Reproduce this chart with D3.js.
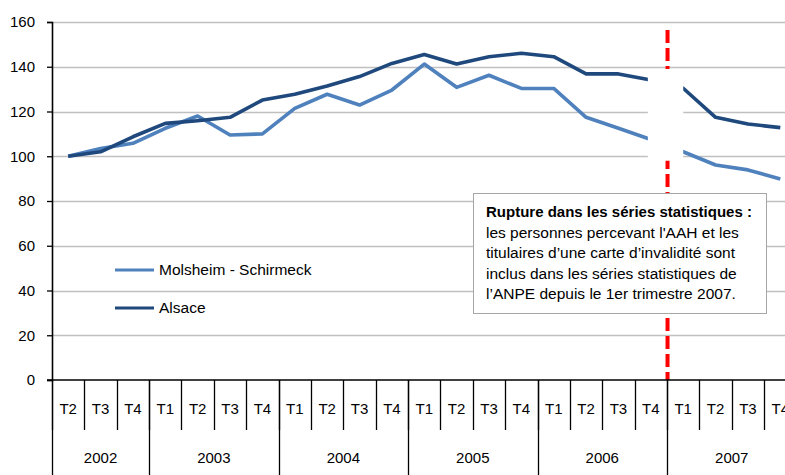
<!DOCTYPE html>
<html>
<head>
<meta charset="utf-8">
<title>Demandeurs d'emploi handicapés</title>
<script src="https://cdnjs.cloudflare.com/ajax/libs/d3/7.8.5/d3.min.js"></script>
<style>
  body { margin: 0; background: #fff; }
  svg { display: block; font-family: "Liberation Sans", Arial, sans-serif; }
</style>
</head>
<body>
<div id="chart"></div>
<script>
// quarter labels, 2002 T2 to 2007 T4
var quarters = ["T2","T3","T4",
                "T1","T2","T3","T4",
                "T1","T2","T3","T4",
                "T1","T2","T3","T4",
                "T1","T2","T3","T4",
                "T1","T2","T3","T4"];
var years = ["2002","2003","2004","2005","2006","2007"];
var quartersPerYear = [3, 4, 4, 4, 4, 4];

// index base 100 = 2002 T2
var molsheim = [100, 103.5, 105.8, 112.5, 118, 109.5, 110, 121.4, 127.7, 122.9, 129.6,
                141.2, 130.8, 136.2, 130.3, 130.3, 117.4, 112.5, 107.5, 102, 96.1, 93.9, 89.8];
var alsace   = [100, 102, 108.7, 114.7, 115.9, 117.4, 125.1, 127.7, 131.4, 135.6, 141.5,
                145.5, 141.2, 144.5, 146, 144.5, 136.8, 136.8, 134.1, 130.4, 117.4, 114.4, 112.8];
var seriesNames = ["Molsheim - Schirmeck", "Alsace"];
var yTicks = [0, 20, 40, 60, 80, 100, 120, 140, 160];
var breakIndex = 19; // 1er trimestre 2007

var noteTitle = "Rupture dans  les séries statistiques :";
var noteLines = ["les personnes percevant l'AAH et les",
                 "titulaires d\u2019une carte d\u2019invalidité sont",
                 "inclus dans les séries statistiques de",
                 "l\u2019ANPE  depuis le 1er trimestre 2007."];

function draw() {
  var W = 785, H = 475;
  var plotLeft = 52, plotTop = 22, plotBottom = 380;
  var step = 32.37;
  var plotRight = plotLeft + step * quarters.length;

  var svg = d3.select("#chart").append("svg")
    .attr("width", W).attr("height", H);

  var x = d3.scaleBand()
    .domain(d3.range(quarters.length))
    .range([plotLeft, plotRight])
    .padding(0);
  var xc = function(i) { return x(i) + x.bandwidth() / 2; };

  var y = d3.scaleLinear().domain([0, 160]).range([plotBottom, plotTop]);

  // gridlines
  svg.append("g").selectAll("line")
    .data(yTicks.filter(function(d) { return d > 0; }))
    .enter().append("line")
      .attr("x1", plotLeft).attr("x2", W)
      .attr("y1", function(d) { return Math.round(y(d)) + 0.5; })
      .attr("y2", function(d) { return Math.round(y(d)) + 0.5; })
      .attr("stroke", "#c0c0c0")
      .attr("stroke-width", 1.3);

  // y axis
  var yAxis = svg.append("g")
    .attr("transform", "translate(" + plotLeft + ",0)")
    .call(d3.axisLeft(y).tickValues(yTicks).tickSize(5).tickPadding(12));
  yAxis.select(".domain").attr("stroke", "#000").attr("stroke-width", 1.6);
  yAxis.selectAll(".tick line").attr("stroke", "#000").attr("stroke-width", 1.3);
  yAxis.selectAll("text")
    .attr("font-family", "Liberation Sans, Arial, sans-serif")
    .attr("font-size", 15).attr("fill", "#000");

  // red break line
  svg.append("line")
    .attr("x1", x(breakIndex) + 0.5).attr("x2", x(breakIndex) + 0.5)
    .attr("y1", 30).attr("y2", plotBottom)
    .attr("stroke", "#ff0000")
    .attr("stroke-width", 4)
    .attr("stroke-dasharray", "13,5");

  // series lines
  var line = d3.line()
    .x(function(d, i) { return xc(i); })
    .y(function(d) { return y(d); });

  svg.append("path").datum(molsheim)
    .attr("d", line).attr("fill", "none")
    .attr("stroke", "#4f81bd").attr("stroke-width", 3.6)
    .attr("stroke-linejoin", "round");

  svg.append("path").datum(alsace)
    .attr("d", line).attr("fill", "none")
    .attr("stroke", "#1f497d").attr("stroke-width", 3.6)
    .attr("stroke-linejoin", "round");

  // white gap over the break
  svg.append("rect")
    .attr("x", xc(breakIndex - 1) - 3)
    .attr("y", y(139))
    .attr("width", xc(breakIndex) - xc(breakIndex - 1) + 3)
    .attr("height", y(98) - y(139))
    .attr("fill", "#fff");

  // x axis line
  svg.append("line")
    .attr("x1", plotLeft - 5).attr("x2", W)
    .attr("y1", plotBottom).attr("y2", plotBottom)
    .attr("stroke", "#000").attr("stroke-width", 1.6);

  // quarter separators and labels
  var xAxis = svg.append("g");
  xAxis.selectAll("line.q")
    .data(d3.range(quarters.length + 1))
    .enter().append("line")
      .attr("class", "q")
      .attr("x1", function(i) { return Math.round(plotLeft + i * step) + 0.5; })
      .attr("x2", function(i) { return Math.round(plotLeft + i * step) + 0.5; })
      .attr("y1", plotBottom).attr("y2", 430)
      .attr("stroke", "#000").attr("stroke-width", 1.3);

  xAxis.selectAll("text.q")
    .data(quarters)
    .enter().append("text")
      .attr("class", "q")
      .attr("x", function(d, i) { return xc(i); })
      .attr("y", 409)
      .attr("dy", "0.35em")
      .attr("text-anchor", "middle")
      .attr("font-size", 15)
      .text(function(d) { return d; });

  // year separators and labels
  var yearStart = [0];
  quartersPerYear.forEach(function(n, i) { yearStart.push(yearStart[i] + n); });

  xAxis.selectAll("line.y")
    .data(yearStart)
    .enter().append("line")
      .attr("class", "y")
      .attr("x1", function(i) { return Math.round(plotLeft + i * step) + 0.5; })
      .attr("x2", function(i) { return Math.round(plotLeft + i * step) + 0.5; })
      .attr("y1", plotBottom).attr("y2", H)
      .attr("stroke", "#000").attr("stroke-width", 1.3);

  xAxis.selectAll("text.y")
    .data(years)
    .enter().append("text")
      .attr("class", "y")
      .attr("x", function(d, i) {
        return plotLeft + step * (yearStart[i] + quartersPerYear[i] / 2);
      })
      .attr("y", 458)
      .attr("dy", "0.35em")
      .attr("text-anchor", "middle")
      .attr("font-size", 15)
      .text(function(d) { return d; });

  // legend
  var legend = svg.append("g");
  var legendColors = ["#4f81bd", "#1f497d"];
  var legendY = [270, 308];
  seriesNames.forEach(function(name, i) {
    legend.append("line")
      .attr("x1", 115).attr("x2", 154)
      .attr("y1", legendY[i]).attr("y2", legendY[i])
      .attr("stroke", legendColors[i]).attr("stroke-width", 3);
    legend.append("text")
      .attr("x", 159).attr("y", legendY[i])
      .attr("dy", "0.35em")
      .attr("font-size", 15.5)
      .text(name);
  });

  // note box
  var note = svg.append("g");
  note.append("rect")
    .attr("x", 473.5).attr("y", 193.5)
    .attr("width", 293).attr("height", 120)
    .attr("fill", "#fff")
    .attr("stroke", "#a6a6a6").attr("stroke-width", 1);

  note.append("text")
    .attr("x", 486).attr("y", 217)
    .attr("font-size", 15).attr("font-weight", "bold")
    .text(noteTitle);

  noteLines.forEach(function(t, i) {
    note.append("text")
      .attr("x", 486).attr("y", 237.6 + i * 20.6)
      .attr("font-size", 15.5)
      .text(t);
  });
}

draw();
</script>
</body>
</html>
